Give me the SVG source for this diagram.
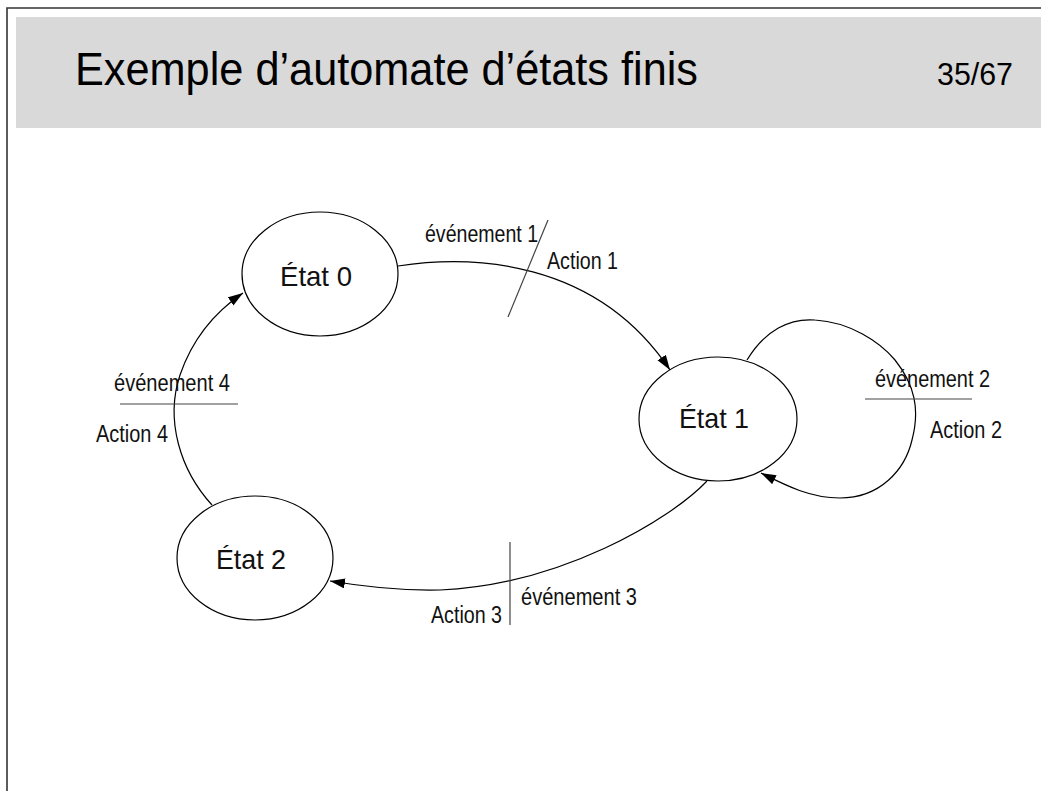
<svg xmlns="http://www.w3.org/2000/svg" width="1041" height="791" viewBox="0 0 1041 791">
<style>
.frame{fill:none;stroke:#333;stroke-width:1.6}
.state{fill:#fff;stroke:#000;stroke-width:1.2}
.edge{fill:none;stroke:#000;stroke-width:1.2}
.sep{fill:none;stroke:#444;stroke-width:1.2}
.lbl{font-family:"Liberation Sans",Arial,sans-serif;font-size:23.5px;fill:#111}
.st{font-family:"Liberation Sans",Arial,sans-serif;font-size:28px;fill:#111}
.title{font-family:"Liberation Sans",Arial,sans-serif;fill:#000}
</style>
<defs>
<marker id="arr" markerUnits="userSpaceOnUse" markerWidth="17" markerHeight="11" refX="15" refY="5" orient="auto">
<path d="M0,0 L15,5 L0,10 z" fill="#000"/>
</marker>
</defs>
<rect width="1041" height="791" fill="#fff"/>
<g id="header">
<rect x="16" y="17" width="1025" height="111" fill="#d9d9d9"/>
<path class="frame" d="M7,791 V8 H1041"/>
<text class="title" x="75" y="85" font-size="46" textLength="623" lengthAdjust="spacingAndGlyphs">Exemple d’automate d’états finis</text>
<text class="title" x="937" y="85" font-size="31" textLength="76" lengthAdjust="spacingAndGlyphs">35/67</text>
</g>
<g id="connectors">
<path class="edge" d="M398,266 C470,255 595,258 670,370" marker-end="url(#arr)"/>
<path class="edge" d="M747,360 C765,330 790,318 815,320 C850,322 880,342 895,360 C915,385 920,410 912,440 C905,470 880,498 840,498 C810,498 785,485 761,473" marker-end="url(#arr)"/>
<path class="edge" d="M707,481 C670,520 560,585 440,590 C400,591 360,586 330,581" marker-end="url(#arr)"/>
<path class="edge" d="M212,505 C180,470 165,420 180,375 C192,340 215,312 243,293" marker-end="url(#arr)"/>
<line class="sep" x1="548" y1="220" x2="508" y2="317"/>
<line class="sep" x1="865" y1="399" x2="972" y2="399"/>
<line class="sep" x1="510" y1="542" x2="510" y2="625"/>
<line class="sep" x1="120" y1="404" x2="238" y2="404"/>
<text class="lbl" x="425" y="242" textLength="113" lengthAdjust="spacingAndGlyphs">événement 1</text>
<text class="lbl" x="547" y="269" textLength="71" lengthAdjust="spacingAndGlyphs">Action 1</text>
<text class="lbl" x="875" y="387" textLength="115" lengthAdjust="spacingAndGlyphs">événement 2</text>
<text class="lbl" x="930" y="438" textLength="72" lengthAdjust="spacingAndGlyphs">Action 2</text>
<text class="lbl" x="521" y="605" textLength="116" lengthAdjust="spacingAndGlyphs">événement 3</text>
<text class="lbl" x="431" y="623" textLength="71" lengthAdjust="spacingAndGlyphs">Action 3</text>
<text class="lbl" x="114" y="391" textLength="116" lengthAdjust="spacingAndGlyphs">événement 4</text>
<text class="lbl" x="96" y="442" textLength="72" lengthAdjust="spacingAndGlyphs">Action 4</text>
</g>
<g id="etat0">
<ellipse class="state" cx="320" cy="274" rx="78" ry="62"/>
<text class="st" x="280" y="286" textLength="72" lengthAdjust="spacingAndGlyphs">État 0</text>
</g>
<g id="etat1">
<ellipse class="state" cx="718" cy="419" rx="79" ry="62"/>
<text class="st" x="679" y="428" textLength="70" lengthAdjust="spacingAndGlyphs">État 1</text>
</g>
<g id="etat2">
<ellipse class="state" cx="255" cy="558" rx="78" ry="62"/>
<text class="st" x="216" y="569" textLength="70" lengthAdjust="spacingAndGlyphs">État 2</text>
</g>
</svg>
